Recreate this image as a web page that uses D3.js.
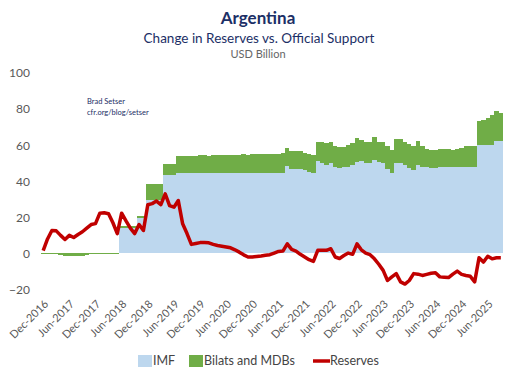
<!DOCTYPE html>
<html>
<head>
<meta charset="utf-8">
<script src="https://cdn.jsdelivr.net/npm/d3@7"></script>
<style>
  body { margin: 0; background: #fff; }
  svg { font-family: Lato, "Noto Sans", sans-serif; }
</style>
</head>
<body>
<svg width="520" height="378"></svg>
<script>
// monthly, Dec-2016 .. Sep-2025
var startMonth = new Date(2016, 11, 1);
var endMonth = new Date(2025, 9, 1);

var imf = [
  0, 0, 0, 0, 0, 0, 0, 0, 0, 0, 0, 0, 0, 0, 0, 0, 0, 0,
  14.2, 14.2, 14.2, 14.2, 19.8, 19.8,
  29.4, 29.4, 29.4, 29.4, 43.5, 43.5, 43.5,
  44.5, 44.5, 44.5, 44.5, 44.5, 44.5, 44.5, 44.5, 44.5, 44.5, 44.5, 44.5, 44.5,
  44.5, 44.5, 44.5, 44.5, 44.5, 44.5, 44.5, 44.5, 44.5, 44.5, 44.5, 44.5,
  48.6, 47, 47, 47, 46, 45, 44.5, 51, 50, 49, 50, 48, 47.3, 48, 48, 49, 50.5,
  51, 50, 50, 52, 50.5, 50, 47, 44.5, 50, 50, 49, 47.5, 46.5, 49, 48, 48, 47.5,
  47.5, 48, 48, 48, 48, 48, 48, 48, 47.8, 47.8, 60.3, 60.3, 60.3, 60.3, 62.2, 62.2
];

var bilats = [
  -0.3, -0.3, -0.4, -0.5, -0.8, -1.3, -1.5, -1.6, -1.5, -1.2, -0.8, -0.5, -0.3,
  -0.2, -0.2, -0.3, -0.6, -0.4,
  0.8, 1, 1, 1, 0.9, 0.9,
  9.2, 9.2, 9.2, 9.2, 5.8, 5.8, 5.8,
  9.3, 9.5, 9.6, 9.5, 9.6, 9.8, 9.9, 9.7, 9.8, 10, 10.1, 10, 10.2, 10.1, 10.3,
  10.4, 10.3, 10.4, 10.5, 10.5, 10.6, 10.5, 10.7, 10.8, 10.9,
  9.9, 10, 10, 9.6, 9.7, 10, 10.2, 11, 11.6, 12, 12, 11.5, 11.7, 11, 12, 12, 13.5,
  12, 12, 12, 12.8, 11.5, 12, 12.5, 13, 13.5, 13.5, 12.5, 13, 13, 13.5, 11.5, 10, 10,
  10, 9.7, 9.7, 9.7, 9.5, 9.8, 10.3, 11.3, 11.7, 11.7, 13.1, 13.7, 15, 16.5, 16.7, 15.8
];

var reserves = [
  1.5, 8, 12.7, 12.5, 10, 7.7, 10, 8.8, 10.5, 12, 14, 16, 16.5, 22.3, 22.5, 22, 17, 11,
  22.3, 18, 14, 11, 16, 12.7, 27, 27.6, 29, 27, 33, 26.5, 25.6, 29.3, 16.4, 11, 5,
  5.5, 6, 6, 5.9, 5, 4.4, 4, 3.6, 3.1, 2, 0.7, -0.8, -2, -2, -1.7, -1.4, -1, -0.7,
  0.2, 1.1, 1.3, 5.3, 2.2, 1.3, -0.5, -2, -3.5, -4.4, 1.7, 1.7, 1.7, 2.6, -2, -2.8,
  -1.2, 0.2, -0.5, 5.3, 2, 0.2, -0.7, -3, -6, -9.4, -15, -13, -11.2, -15.8, -17, -15,
  -11.2, -11.5, -12.2, -11.6, -11, -10.7, -13, -13.2, -13.4, -11.5, -9.8, -11.6,
  -12.2, -12.7, -15.8, -2.4, -4.8, -1.6, -3, -2.4, -2.4
];

var yTicks = [-20, 0, 20, 40, 60, 80, 100];
var xTickLabels = ["Dec-2016", "Jun-2017", "Dec-2017", "Jun-2018", "Dec-2018", "Jun-2019",
  "Dec-2019", "Jun-2020", "Dec-2020", "Jun-2021", "Dec-2021", "Jun-2022", "Dec-2022",
  "Jun-2023", "Dec-2023", "Jun-2024", "Dec-2024", "Jun-2025"];
var legendItems = ["IMF", "Bilats and MDBs", "Reserves"];

var months = d3.timeMonth.range(startMonth, endMonth);
var fmt = d3.timeFormat("%b-%Y");

var svg = d3.select("svg");
var navy = "#1c2f66";

var x = d3.scaleBand().domain(months.map(fmt)).range([41, 503]).padding(0);
var y = d3.scaleLinear().domain([-20, 100]).range([289.5, 73]);
var color = d3.scaleOrdinal().domain(legendItems).range(["#bdd7ee", "#70ad47", "#c00000"]);

var data = months.map(function(m, i) {
  return { key: fmt(m), imf: imf[i], bilats: bilats[i], reserves: reserves[i] };
});

// titles
svg.append("text").attr("x", 258).attr("y", 24).attr("text-anchor", "middle")
  .style("font-size", "17px").style("font-weight", "bold").style("fill", navy).text("Argentina");
svg.append("text").attr("x", 259).attr("y", 43).attr("text-anchor", "middle")
  .style("font-size", "13.5px").style("fill", navy).text("Change in Reserves vs. Official Support");
svg.append("text").attr("x", 258).attr("y", 58).attr("text-anchor", "middle")
  .style("font-size", "11px").style("fill", "#666").text("USD Billion");

svg.append("text").attr("x", 87).attr("y", 104)
  .style("font-size", "7.5px").style("fill", navy).text("Brad Setser");
svg.append("text").attr("x", 87).attr("y", 115)
  .style("font-size", "7.5px").style("fill", navy).text("cfr.org/blog/setser");

// y axis labels only
svg.append("g")
  .attr("transform", "translate(30,0)")
  .call(d3.axisLeft(y).tickValues(yTicks).tickSize(0).tickPadding(0))
  .call(function(g) { g.select(".domain").remove(); })
  .selectAll("text")
  .style("font-size", "12px").style("fill", "#595959")
  .style("font-family", "Lato, 'Noto Sans', sans-serif");

// IMF columns
svg.append("g").attr("shape-rendering", "crispEdges")
  .selectAll("rect").data(data).enter().append("rect")
  .attr("x", function(d) { return x(d.key); })
  .attr("width", x.bandwidth())
  .attr("y", function(d) { return y(Math.max(0, d.imf)); })
  .attr("height", function(d) { return Math.abs(y(0) - y(d.imf)); })
  .style("fill", color("IMF"));

// bilats stacked on top of IMF
svg.append("g").attr("shape-rendering", "crispEdges")
  .selectAll("rect").data(data).enter().append("rect")
  .attr("x", function(d) { return x(d.key); })
  .attr("width", x.bandwidth())
  .attr("y", function(d) { return y(Math.max(d.imf, d.imf + d.bilats)); })
  .attr("height", function(d) { return Math.abs(y(d.imf) - y(d.imf + d.bilats)); })
  .style("fill", color("Bilats and MDBs"));

// reserves line
var line = d3.line()
  .x(function(d) { return x(d.key) + x.bandwidth() / 2; })
  .y(function(d) { return y(d.reserves); });
svg.append("path").datum(data)
  .attr("d", line)
  .style("fill", "none")
  .style("stroke", color("Reserves"))
  .style("stroke-width", 3.5)
  .style("stroke-linejoin", "round");

// x labels
var xAxis = svg.append("g");
xTickLabels.forEach(function(lab) {
  var cx = x(lab) + x.bandwidth() / 2;
  xAxis.append("text")
    .attr("transform", "translate(" + (cx + 3) + ",302) rotate(-45)")
    .attr("text-anchor", "end")
    .attr("dy", "0.35em")
    .style("font-size", "11px").style("fill", "#595959")
    .text(lab);
});

// legend
var legX = [138, 189, 313];
var legend = svg.append("g");
legendItems.forEach(function(name, i) {
  if (name == "Reserves") {
    legend.append("line").attr("x1", legX[i]).attr("x2", legX[i] + 17)
      .attr("y1", 361).attr("y2", 361)
      .style("stroke", color(name)).style("stroke-width", 3.5);
  } else {
    legend.append("rect").attr("x", legX[i]).attr("y", 355).attr("width", 14).attr("height", 12)
      .style("fill", color(name));
  }
  legend.append("text")
    .attr("x", legX[i] + (name == "Reserves" ? 17 : 15)).attr("y", 361).attr("dy", "0.35em")
    .style("font-size", "12.5px").style("fill", "#444").text(name);
});
</script>
</body>
</html>
